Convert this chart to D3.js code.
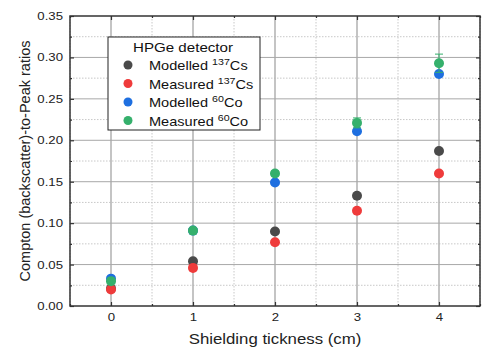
<!DOCTYPE html>
<html>
<head>
<meta charset="utf-8">
<script src="https://cdn.jsdelivr.net/npm/d3@7"></script>
<style>
  body { margin: 0; background: #fff; }
  svg { font-family: Arial, "Liberation Sans", sans-serif; }
</style>
</head>
<body>
<svg id="chart" width="482" height="347"></svg>
<script>
// data
var thickness = [0, 1, 2, 3, 4];
var modelledCs = [0.021, 0.054, 0.090, 0.133, 0.187];
var measuredCs = [0.020, 0.046, 0.077, 0.115, 0.160];
var modelledCo = [0.033, 0.091, 0.149, 0.211, 0.280];
var measuredCo = [0.030, 0.091, 0.160, 0.221, 0.293];
var measuredCoErr = [0.001, 0.002, 0.003, 0.006, 0.011];
var xTicks = [0, 1, 2, 3, 4];
var yTicks = [0, 0.05, 0.10, 0.15, 0.20, 0.25, 0.30, 0.35];

var series = [
  {name: "Modelled ", iso: "137", el: "Cs", values: modelledCs, color: "#4a4a4a"},
  {name: "Measured ", iso: "137", el: "Cs", values: measuredCs, color: "#ef3b3b"},
  {name: "Modelled ", iso: "60", el: "Co", values: modelledCo, color: "#1e6fe0"},
  {name: "Measured ", iso: "60", el: "Co", values: measuredCo, color: "#35b06c", err: measuredCoErr}
];

var margin = {top: 16, right: 2, bottom: 41, left: 70};
var W = 482, H = 347;
var w = W - margin.left - margin.right, h = H - margin.top - margin.bottom;
var stretch = 1.2; // text in the picture looks a bit wide

var svg = d3.select("#chart");
var g = svg.append("g").attr("transform", "translate(" + margin.left + "," + margin.top + ")");

var x = d3.scaleLinear().domain([-0.5, 4.5]).range([0, w]);
var y = d3.scaleLinear().domain([0, 0.35]).range([h, 0]);

var minorX = d3.range(-0.5, 4.51, 0.5).filter(function(d) { return d % 1 !== 0; });
var minorY = d3.range(0.025, 0.35, 0.05);

// minor grid (dotted)
g.append("g").selectAll("line").data(minorX).enter().append("line")
  .attr("x1", function(d) { return x(d); }).attr("x2", function(d) { return x(d); })
  .attr("y1", 0).attr("y2", h)
  .attr("stroke", "#c8c8c8").attr("stroke-dasharray", "1.5,1.5");
g.append("g").selectAll("line").data(minorY).enter().append("line")
  .attr("y1", function(d) { return y(d); }).attr("y2", function(d) { return y(d); })
  .attr("x1", 0).attr("x2", w)
  .attr("stroke", "#c8c8c8").attr("stroke-dasharray", "1.5,1.5");

// major grid
g.append("g").selectAll("line").data(xTicks).enter().append("line")
  .attr("x1", function(d) { return x(d); }).attr("x2", function(d) { return x(d); })
  .attr("y1", 0).attr("y2", h)
  .attr("stroke", "#b0b0b0").attr("stroke-width", 1.5);
g.append("g").selectAll("line").data(yTicks.slice(1, -1)).enter().append("line")
  .attr("y1", function(d) { return y(d); }).attr("y2", function(d) { return y(d); })
  .attr("x1", 0).attr("x2", w)
  .attr("stroke", "#a8a8a8").attr("stroke-width", 1);

// axes with inward ticks
function styleAxis(sel) {
  sel.select(".domain").remove();
  sel.selectAll(".tick line").attr("stroke", "#333").attr("stroke-width", 1.2);
  sel.selectAll("text").attr("fill", "#222").style("font-size", "11px");
}
var xAxis = g.append("g").attr("transform", "translate(0," + h + ")")
  .call(d3.axisBottom(x).tickValues(xTicks).tickSizeInner(-4).tickPadding(7).tickFormat(d3.format("d")));
styleAxis(xAxis);
xAxis.selectAll("text").attr("transform", "scale(" + stretch + ",1)");
var xMinor = g.append("g").attr("transform", "translate(0," + h + ")")
  .call(d3.axisBottom(x).tickValues(minorX).tickSizeInner(-2).tickFormat(""));
styleAxis(xMinor);
var xTop = g.append("g").call(d3.axisTop(x).tickValues(xTicks).tickSizeInner(-4).tickFormat(""));
styleAxis(xTop);
var xTopMinor = g.append("g").call(d3.axisTop(x).tickValues(minorX).tickSizeInner(-2).tickFormat(""));
styleAxis(xTopMinor);

var yAxis = g.append("g")
  .call(d3.axisLeft(y).tickValues(yTicks).tickSizeInner(-4).tickPadding(8).tickFormat(d3.format(".2f")));
styleAxis(yAxis);
yAxis.selectAll("text").attr("x", -7 / stretch).attr("transform", "scale(" + stretch + ",1)");
var yMinor = g.append("g").call(d3.axisLeft(y).tickValues(minorY).tickSizeInner(-2).tickFormat(""));
styleAxis(yMinor);
var yRight = g.append("g").attr("transform", "translate(" + w + ",0)")
  .call(d3.axisRight(y).tickValues(yTicks).tickSizeInner(-4).tickFormat(""));
styleAxis(yRight);
var yRightMinor = g.append("g").attr("transform", "translate(" + w + ",0)")
  .call(d3.axisRight(y).tickValues(minorY).tickSizeInner(-2).tickFormat(""));
styleAxis(yRightMinor);

// frame
g.append("rect").attr("width", w).attr("height", h)
  .attr("fill", "none").attr("stroke", "#333").attr("stroke-width", 1.5);

// error bars + points
series.forEach(function(s) {
  if (s.err) {
    var eb = g.append("g").attr("stroke", s.color).attr("stroke-width", 1);
    thickness.forEach(function(t, i) {
      var x0 = x(t), yt = y(s.values[i] + s.err[i]), yb = y(s.values[i] - s.err[i]);
      eb.append("line").attr("x1", x0).attr("x2", x0).attr("y1", yt).attr("y2", yb);
      eb.append("line").attr("x1", x0 - 4).attr("x2", x0 + 4).attr("y1", yt).attr("y2", yt);
      eb.append("line").attr("x1", x0 - 4).attr("x2", x0 + 4).attr("y1", yb).attr("y2", yb);
    });
  }
  g.append("g").selectAll("circle").data(s.values).enter().append("circle")
    .attr("cx", function(d, i) { return x(thickness[i]); })
    .attr("cy", function(d) { return y(d); })
    .attr("r", 5)
    .attr("fill", s.color);
});

// axis titles
svg.append("text").attr("transform", "translate(" + (margin.left + w / 2) + ",344) scale(" + stretch + ",1)")
  .attr("text-anchor", "middle").style("font-size", "14px").attr("fill", "#222")
  .text("Shielding tickness (cm)");
svg.append("text").attr("transform", "translate(30," + (margin.top + h / 2) + ") rotate(-90)")
  .attr("text-anchor", "middle").style("font-size", "14.5px").attr("fill", "#222")
  .text("Compton (backscatter)-to-Peak ratios");

// legend
var lg = svg.append("g").attr("transform", "translate(108,37)");
lg.append("rect").attr("width", 152).attr("height", 93)
  .attr("fill", "#fff").attr("stroke", "#222").attr("stroke-width", 1);
lg.append("text").attr("transform", "translate(75,15) scale(1.12,1)").attr("text-anchor", "middle")
  .style("font-size", "13.5px").attr("fill", "#111").text("HPGe detector");
series.forEach(function(s, i) {
  var yy = 28 + i * 18.5;
  lg.append("circle").attr("cx", 20).attr("cy", yy).attr("r", 4.5).attr("fill", s.color);
  var t = lg.append("text").attr("transform", "translate(41," + (yy + 5) + ") scale(1.12,1)")
    .style("font-size", "13px").attr("fill", "#111");
  t.append("tspan").text(s.name);
  t.append("tspan").attr("dy", -5).style("font-size", "9.5px").text(s.iso);
  t.append("tspan").attr("dy", 5).text(s.el);
});
</script>
</body>
</html>
